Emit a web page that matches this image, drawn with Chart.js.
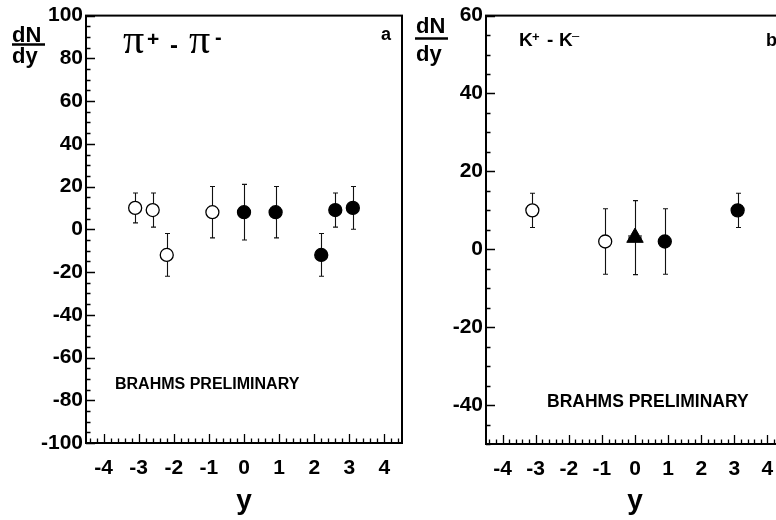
<!DOCTYPE html>
<html>
<head>
<meta charset="utf-8">
<script src="https://cdn.jsdelivr.net/npm/chart.js@4.4.1/dist/chart.umd.min.js"></script>
<style>
html, body { margin: 0; padding: 0; background: #fff; overflow: hidden; width: 776px; height: 520px; }
canvas { position: absolute; top: 0; }
#pion { left: 0; }
#kaon { left: 405px; }
</style>
</head>
<body>
<canvas id="pion" width="410" height="520"></canvas>
<canvas id="kaon" width="400" height="520"></canvas>
<script>
// panel a: pi+ - pi-
const piOpenRap = [-3.1, -2.6, -2.2, -0.9]
const piOpenVal = [10, 9, -12, 8]
const piOpenErr = [7, 8, 10, 12]
const piFullRap = [0, 0.9, 2.2, 2.6, 3.1]
const piFullVal = [8, 8, -12, 9, 10]
const piFullErr = [13, 12, 10, 8, 10]

// panel b: K+ - K-
const kOpenRap = [-3.1, -0.9]
const kOpenVal = [10, 2]
const kOpenErr = [4.4, 8.4]
const kTriRap = [0]
const kTriVal = [3]
const kTriErr = [9.5]
const kTriRapErr = [0.18]
const kFullRap = [0.9, 3.1]
const kFullVal = [2, 10]
const kFullErr = [8.4, 4.4]

// tick labels
const rapTicks = [-4, -3, -2, -1, 0, 1, 2, 3, 4]
const piTicks = [-100, -80, -60, -40, -20, 0, 20, 40, 60, 80, 100]
const kTicks = [-40, -20, 0, 20, 40, 60]

const SANS = '"Liberation Sans", Arial, Helvetica, sans-serif'
Chart.defaults.font.family = SANS
Chart.defaults.color = '#000'

function toPoints(xs, ys, errs, xerrs) {
    return xs.map((x, i) => ({x: x, y: ys[i], err: errs[i], xerr: xerrs ? xerrs[i] : 0}))
}

// error bars, drawn under the markers
const errorBars = {
    id: 'errorBars',
    beforeDatasetsDraw(chart) {
        const {ctx, scales: {x, y}} = chart
        ctx.save()
        ctx.strokeStyle = '#111'
        ctx.lineWidth = 1.1
        chart.data.datasets.forEach((ds) => {
            for (const p of ds.data) {
                const px = Math.round(x.getPixelForValue(p.x)) + 0.5
                const top = y.getPixelForValue(p.y + p.err)
                const bot = y.getPixelForValue(p.y - p.err)
                ctx.beginPath()
                ctx.moveTo(px, top); ctx.lineTo(px, bot)
                ctx.moveTo(px - 2.5, top); ctx.lineTo(px + 2.5, top)
                ctx.moveTo(px - 2.5, bot); ctx.lineTo(px + 2.5, bot)
                if (p.xerr) {
                    const py = y.getPixelForValue(p.y)
                    const l = x.getPixelForValue(p.x - p.xerr)
                    const r = x.getPixelForValue(p.x + p.xerr)
                    ctx.moveTo(l, py); ctx.lineTo(r, py)
                    ctx.moveTo(l, py - 2.5); ctx.lineTo(l, py + 2.5)
                    ctx.moveTo(r, py - 2.5); ctx.lineTo(r, py + 2.5)
                }
                ctx.stroke()
            }
        })
        ctx.restore()
    }
}

// frame with inward ticks like ROOT
const frame = {
    id: 'frame',
    afterDatasetsDraw(chart, args, opts) {
        const {ctx, chartArea: a, scales: {x, y}} = chart
        ctx.save()
        ctx.strokeStyle = '#000'
        ctx.lineWidth = 1.3
        ctx.beginPath()
        const near = (v, s) => Math.abs(v / s - Math.round(v / s)) < 1e-6
        for (let k = Math.ceil(x.min / opts.xMinor); k * opts.xMinor <= x.max + 1e-9; k++) {
            const v = k * opts.xMinor
            const px = Math.round(x.getPixelForValue(v)) + 0.5
            const len = near(v, opts.xMajor) ? 9 : 4.5
            ctx.moveTo(px, a.bottom); ctx.lineTo(px, a.bottom - len)
        }
        for (let k = Math.ceil(y.min / opts.yMinor); k * opts.yMinor <= y.max + 1e-9; k++) {
            const v = k * opts.yMinor
            const py = Math.round(y.getPixelForValue(v)) + 0.5
            const len = near(v, opts.yMajor) ? 9 : 4.5
            ctx.moveTo(a.left, py); ctx.lineTo(a.left + len, py)
        }
        ctx.stroke()
        ctx.lineWidth = 2
        ctx.strokeRect(a.left, a.top, a.right - a.left, a.bottom - a.top)
        ctx.restore()
    }
}

// free texts (labels, titles)
const texts = {
    id: 'texts',
    afterDraw(chart, args, opts) {
        const ctx = chart.ctx
        ctx.save()
        ctx.fillStyle = '#000'
        ctx.textBaseline = 'alphabetic'
        ctx.textAlign = 'left'
        for (const t of opts.items) {
            ctx.font = t.font
            ctx.fillText(t.t, t.x, t.y)
        }
        ctx.strokeStyle = '#000'
        ctx.lineWidth = 2.5
        for (const l of opts.lines) {
            ctx.beginPath()
            ctx.moveTo(l[0], l[1]); ctx.lineTo(l[2], l[3])
            ctx.stroke()
        }
        ctx.restore()
    }
}

function makeScales(yMin, yMax, yTicks, yWidth, xHeight) {
    const tickFont = {family: SANS, size: 21, weight: 'bold'}
    return {
        x: {
            type: 'linear', min: -4.5, max: 4.5,
            afterBuildTicks: (s) => { s.ticks = rapTicks.map((v) => ({value: v})) },
            afterFit: (s) => { s.height = xHeight },
            grid: {display: false, drawTicks: false},
            border: {display: false},
            ticks: {font: tickFont, color: '#000', padding: 13, autoSkip: false, maxRotation: 0},
            title: {display: true, text: 'y', color: '#000',
                font: {family: SANS, size: 28, weight: 'bold'}, padding: {top: 0, bottom: 2}}
        },
        y: {
            type: 'linear', min: yMin, max: yMax,
            afterBuildTicks: (s) => { s.ticks = yTicks.map((v) => ({value: v})) },
            afterFit: (s) => { s.width = yWidth },
            grid: {display: false, drawTicks: false},
            border: {display: false},
            ticks: {font: tickFont, color: '#000', padding: 3, autoSkip: false}
        }
    }
}

const openStyle = {pointStyle: 'circle', pointRadius: 6.5, backgroundColor: '#fff', borderColor: '#000', borderWidth: 1.3}
const fullStyle = {pointStyle: 'circle', pointRadius: 6.5, backgroundColor: '#000', borderColor: '#000', borderWidth: 1.3}
const triStyle = {pointStyle: 'triangle', pointRadius: 9.5, backgroundColor: '#000', borderColor: '#000', borderWidth: 1}

const commonOpts = {
    responsive: false,
    animation: false,
    events: [],
    devicePixelRatio: 1
}

new Chart(document.getElementById('pion'), {
    type: 'scatter',
    data: {
        datasets: [
            Object.assign({label: 'pi open', data: toPoints(piOpenRap, piOpenVal, piOpenErr)}, openStyle),
            Object.assign({label: 'pi full', data: toPoints(piFullRap, piFullVal, piFullErr)}, fullStyle)
        ]
    },
    options: Object.assign({}, commonOpts, {
        layout: {padding: {top: 7, right: 8, bottom: 0, left: 0}},
        scales: makeScales(-100, 100, piTicks, 86, 77),
        plugins: {
            legend: {display: false},
            tooltip: {enabled: false},
            frame: {xMajor: 1, xMinor: 0.2, yMajor: 20, yMinor: 5},
            texts: {
                items: [
                    {t: 'dN', x: 12, y: 42, font: 'bold 22px ' + SANS},
                    {t: 'dy', x: 12, y: 63, font: 'bold 22px ' + SANS},
                    {t: 'π', x: 123, y: 53, font: '42px "Liberation Serif", serif'},
                    {t: '+', x: 147, y: 46, font: 'bold 21px ' + SANS},
                    {t: '-', x: 170, y: 53, font: 'bold 24px ' + SANS},
                    {t: 'π', x: 189, y: 53, font: '42px "Liberation Serif", serif'},
                    {t: '-', x: 215, y: 44, font: 'bold 20px ' + SANS},
                    {t: 'a', x: 381, y: 40, font: 'bold 18px ' + SANS},
                    {t: 'BRAHMS PRELIMINARY', x: 115, y: 389, font: 'bold 16px ' + SANS}
                ],
                lines: [[12, 44.5, 45, 44.5]]
            }
        }
    }),
    plugins: [errorBars, frame, texts]
})

new Chart(document.getElementById('kaon'), {
    type: 'scatter',
    data: {
        datasets: [
            Object.assign({label: 'K open', data: toPoints(kOpenRap, kOpenVal, kOpenErr)}, openStyle),
            Object.assign({label: 'K tri', data: toPoints(kTriRap, kTriVal, kTriErr, kTriRapErr)}, triStyle),
            Object.assign({label: 'K full', data: toPoints(kFullRap, kFullVal, kFullErr)}, fullStyle)
        ]
    },
    options: Object.assign({}, commonOpts, {
        layout: {padding: {top: 7, right: 21, bottom: 0, left: 0}},
        scales: makeScales(-50, 60, kTicks, 81, 76),
        plugins: {
            legend: {display: false},
            tooltip: {enabled: false},
            frame: {xMajor: 1, xMinor: 0.2, yMajor: 20, yMinor: 5},
            texts: {
                items: [
                    {t: 'dN', x: 11, y: 33, font: 'bold 22px ' + SANS},
                    {t: 'dy', x: 11, y: 61, font: 'bold 22px ' + SANS},
                    {t: 'K', x: 114, y: 46, font: 'bold 19px ' + SANS},
                    {t: '+', x: 127, y: 41, font: 'bold 13px ' + SANS},
                    {t: '-', x: 142, y: 46, font: 'bold 19px ' + SANS},
                    {t: 'K', x: 154, y: 46, font: 'bold 19px ' + SANS},
                    {t: '\u2013', x: 167, y: 40, font: '13px ' + SANS},
                    {t: 'b', x: 361, y: 46, font: 'bold 18px ' + SANS},
                    {t: 'BRAHMS PRELIMINARY', x: 142, y: 407, font: 'bold 17.5px ' + SANS}
                ],
                lines: [[10, 38.5, 43, 38.5]]
            }
        }
    }),
    plugins: [errorBars, frame, texts]
})
</script>
</body>
</html>
